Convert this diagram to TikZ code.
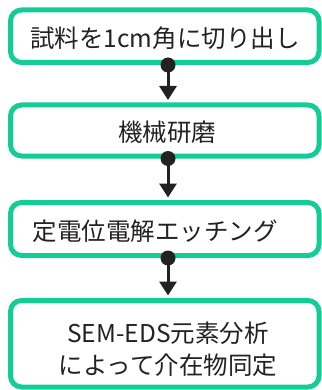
\documentclass[tikz,border=0pt]{standalone}
\usepackage{fontspec}
\newfontfamily\jp{Noto Sans CJK JP}
\usetikzlibrary{arrows.meta}
\definecolor{boxgreen}{HTML}{14CC96}
\definecolor{ink}{HTML}{222222}
\tikzset{
  stepbox/.style={draw=boxgreen, line width=5pt, rounded corners=11pt, fill=white, inner sep=0pt},
  label/.style={text=ink, font=\jp\fontsize{24.5}{32}\selectfont, inner sep=0pt, align=center},
  conn/.style={draw=ink, line width=3pt, -{Triangle[width=17pt,length=14pt]}},
  dot/.style={fill=ink, circle, inner sep=0pt, minimum size=15pt}
}
\begin{document}
\begin{tikzpicture}[x=1pt,y=-1pt]
\useasboundingbox (0,0) rectangle (321,390);
\node[stepbox, minimum width=308.5pt, minimum height=52.5pt] (b1) at (164.75,36.25) {};
\node[stepbox, minimum width=308.5pt, minimum height=51pt] (b2) at (164.75,130.5) {};
\node[stepbox, minimum width=308.5pt, minimum height=53pt] (b3) at (164.75,229) {};
\node[stepbox, minimum width=308.5pt, minimum height=86.5pt] (b4) at (164.75,343.75) {};
\node[label] (t1) at (165,38) {試料を1cm角に切り出し};
\node[label] (t2) at (167,132) {機械研磨};
\node[label] (t3) at (155,231) {定電位電解エッチング};
\node[label] (t4) at (168,349) {SEM-EDS元素分析\\によって介在物同定};
\coordinate (ax) at (168,0);
\draw[conn, shorten >=2.5pt] (b1.south -| ax) -- (b2.north -| ax);
\draw[conn, shorten >=2.5pt] (b2.south -| ax) -- (b3.north -| ax);
\draw[conn, shorten >=2.5pt] (b3.south -| ax) -- (b4.north -| ax);
\node[dot] (d1) at (b1.south -| ax) {};
\node[dot] (d2) at (b2.south -| ax) {};
\node[dot] (d3) at (b3.south -| ax) {};
\end{tikzpicture}
\end{document}
